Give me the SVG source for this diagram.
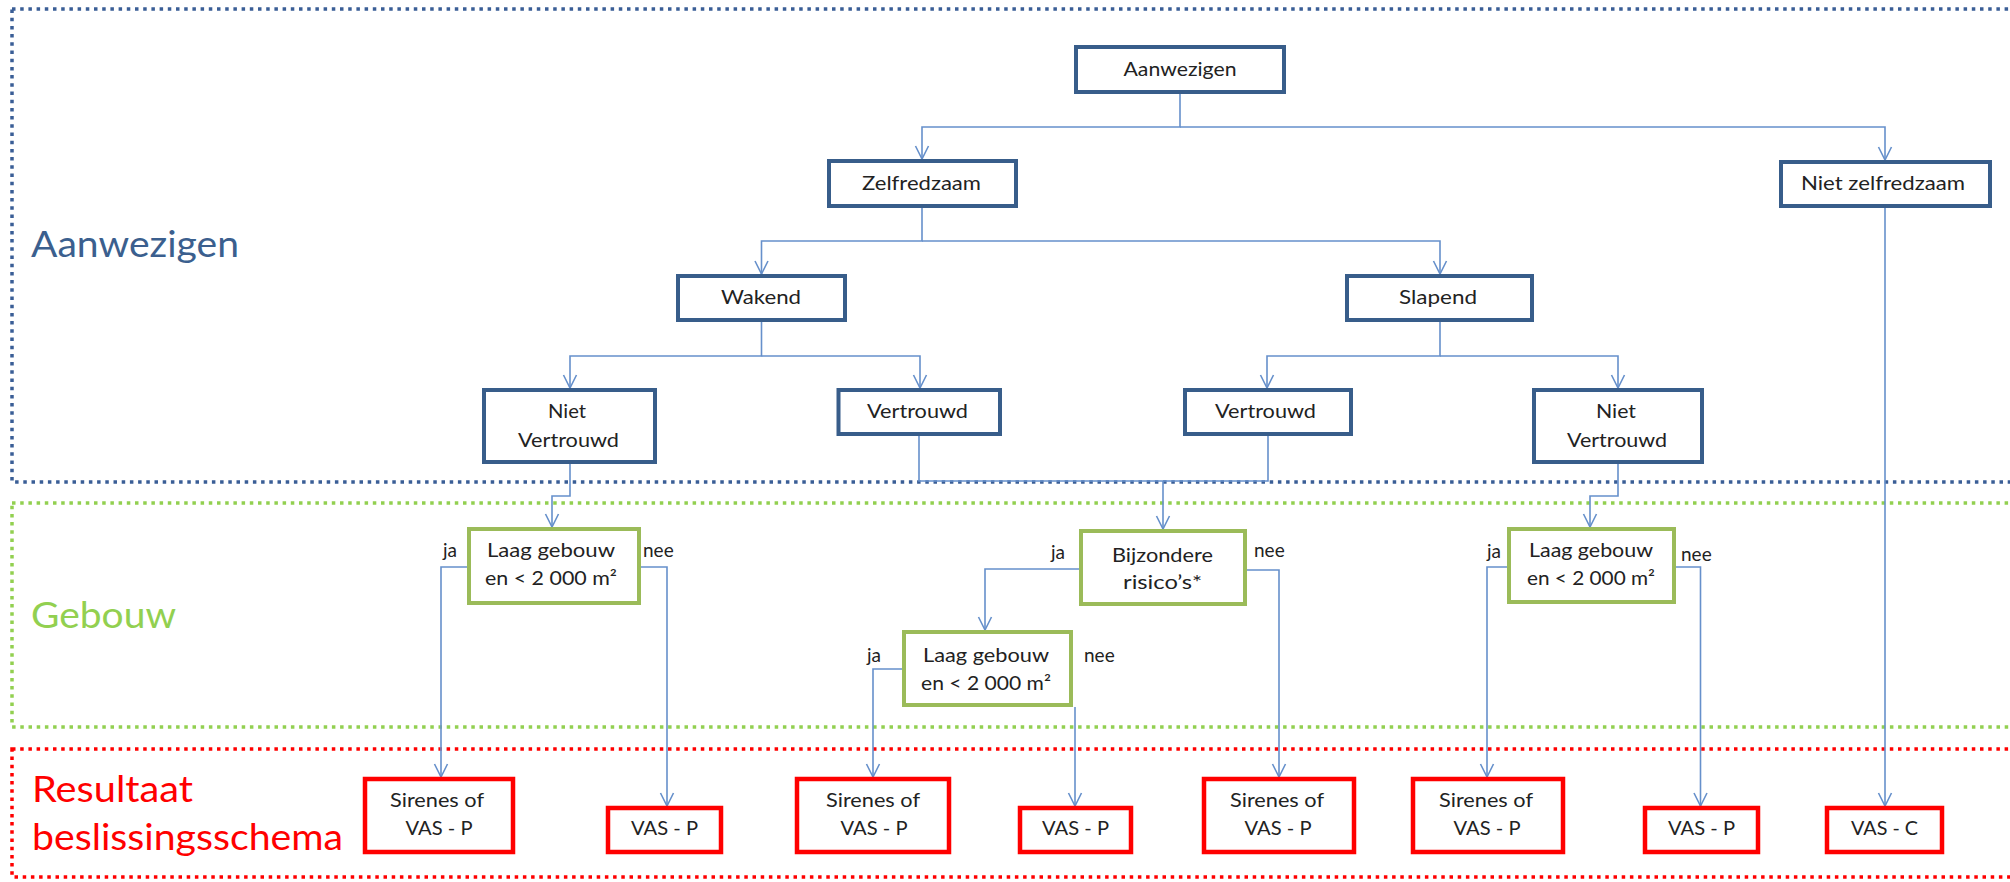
<svg xmlns="http://www.w3.org/2000/svg" width="2010" height="882" viewBox="0 0 2010 882">
<style>
.bg{fill:#ffffff}
.frame{fill:none;stroke-width:3.5;stroke-dasharray:3.5 4.7}
.fb{stroke:#3A5E96}
.fg{stroke:#92D050}
.fr{stroke:#FF0000}
.lbl{font-family:Lato,"Liberation Sans",sans-serif;font-size:37px}
.nb rect{fill:#fff;stroke:#385D8A;stroke-width:4}
.ng rect{fill:#fff;stroke:#9BBB59;stroke-width:4}
.nr rect{fill:#fff;stroke:#FF0000;stroke-width:4.5}
.t{font-family:Lato,"Liberation Sans",sans-serif;font-size:19px;fill:#222;text-anchor:middle}
.yn{font-family:Lato,"Liberation Sans",sans-serif;font-size:19px;fill:#222}
#connectors path{fill:none;stroke:#6690CB;stroke-width:1.6}
</style>
<defs>
<marker id="arr" markerUnits="userSpaceOnUse" markerWidth="30" markerHeight="30" refX="0" refY="0" viewBox="-15 -15 30 30" orient="auto" overflow="visible">
<path d="M-13,-6.5 L0,0 L-13,6.5" fill="none" stroke="#6690CB" stroke-width="1.6"/>
</marker>
</defs>
<rect class="bg" x="0" y="0" width="2010" height="882"/>

<g id="frames">
<rect class="frame fb" x="12" y="9" width="2030" height="473"/>
<rect class="frame fg" x="12" y="503" width="2030" height="224"/>
<rect class="frame fr" x="12" y="749" width="2030" height="128"/>
</g>

<g id="section-labels">
<text class="lbl" x="31" y="257" fill="#3B5F8E" textLength="208" lengthAdjust="spacingAndGlyphs">Aanwezigen</text>
<text class="lbl" x="31" y="628" fill="#92D050" textLength="145" lengthAdjust="spacingAndGlyphs">Gebouw</text>
<text class="lbl" x="32" y="802" fill="#FF0000" textLength="161" lengthAdjust="spacingAndGlyphs">Resultaat</text>
<text class="lbl" x="32" y="850" fill="#FF0000" textLength="311" lengthAdjust="spacingAndGlyphs">beslissingsschema</text>
</g>

<g id="connectors">
<path d="M1180,93 V127 H922 V159" marker-end="url(#arr)"/>
<path d="M1180,127 H1885 V160" marker-end="url(#arr)"/>
<path d="M922,208 V241 H761.5 V274" marker-end="url(#arr)"/>
<path d="M922,241 H1440 V274" marker-end="url(#arr)"/>
<path d="M761.5,322 V356 H570 V388" marker-end="url(#arr)"/>
<path d="M761.5,356 H920 V388" marker-end="url(#arr)"/>
<path d="M1440,322 V356 H1267 V388" marker-end="url(#arr)"/>
<path d="M1440,356 H1618 V388" marker-end="url(#arr)"/>
<path d="M570,464 V496 H552 V527" marker-end="url(#arr)"/>
<path d="M919,436 V481 H1268 V436"/>
<path d="M1163,481 V529" marker-end="url(#arr)"/>
<path d="M1618,464 V496 H1590 V527" marker-end="url(#arr)"/>
<path d="M1885,208 V806" marker-end="url(#arr)"/>
<path d="M467,567 H441 V777" marker-end="url(#arr)"/>
<path d="M641,567 H667 V806" marker-end="url(#arr)"/>
<path d="M1079,569 H985 V630" marker-end="url(#arr)"/>
<path d="M1247,570 H1279 V777" marker-end="url(#arr)"/>
<path d="M902,669 H873 V777" marker-end="url(#arr)"/>
<path d="M1075,707 V806" marker-end="url(#arr)"/>
<path d="M1507,567 H1487 V777" marker-end="url(#arr)"/>
<path d="M1676,567 H1700.5 V806" marker-end="url(#arr)"/>
</g>

<g id="n-aanwezigen" class="nb"><rect x="1076" y="47" width="208" height="45"/><text class="t" x="1180" y="76" textLength="113" lengthAdjust="spacingAndGlyphs">Aanwezigen</text></g>
<g id="n-zelfredzaam" class="nb"><rect x="829" y="161" width="187" height="45"/><text class="t" x="921.5" y="190" textLength="119" lengthAdjust="spacingAndGlyphs">Zelfredzaam</text></g>
<g id="n-niet-zelfredzaam" class="nb"><rect x="1781" y="162" width="209" height="44"/><text class="t" x="1883" y="190" textLength="164" lengthAdjust="spacingAndGlyphs">Niet zelfredzaam</text></g>
<g id="n-wakend" class="nb"><rect x="678" y="276" width="167" height="44"/><text class="t" x="761" y="304" textLength="80" lengthAdjust="spacingAndGlyphs">Wakend</text></g>
<g id="n-slapend" class="nb"><rect x="1347" y="276" width="185" height="44"/><text class="t" x="1438" y="304" textLength="78" lengthAdjust="spacingAndGlyphs">Slapend</text></g>
<g id="n-niet-vertrouwd-wakend" class="nb"><rect x="484" y="390" width="171" height="72"/><text class="t" x="567" y="418" textLength="38" lengthAdjust="spacingAndGlyphs">Niet</text><text class="t" x="568.5" y="447" textLength="101" lengthAdjust="spacingAndGlyphs">Vertrouwd</text></g>
<g id="n-vertrouwd-wakend" class="nb"><rect x="838.5" y="390" width="161.5" height="44"/><text class="t" x="917.5" y="418" textLength="101" lengthAdjust="spacingAndGlyphs">Vertrouwd</text></g>
<g id="n-vertrouwd-slapend" class="nb"><rect x="1185" y="390" width="166" height="44"/><text class="t" x="1265.5" y="418" textLength="101" lengthAdjust="spacingAndGlyphs">Vertrouwd</text></g>
<g id="n-niet-vertrouwd-slapend" class="nb"><rect x="1534" y="390" width="168" height="72"/><text class="t" x="1616" y="418" textLength="40" lengthAdjust="spacingAndGlyphs">Niet</text><text class="t" x="1617" y="447" textLength="100" lengthAdjust="spacingAndGlyphs">Vertrouwd</text></g>

<g id="n-laag-gebouw-1" class="ng"><rect x="469" y="529" width="170" height="74"/><text class="t" x="551" y="557" textLength="128" lengthAdjust="spacingAndGlyphs">Laag gebouw</text><text class="t" x="551" y="585" textLength="132" lengthAdjust="spacingAndGlyphs">en &lt; 2 000 m²</text></g>
<g id="n-bijzondere" class="ng"><rect x="1081" y="531" width="164" height="73"/><text class="t" x="1162.5" y="562" textLength="101" lengthAdjust="spacingAndGlyphs">Bijzondere</text><text class="t" x="1162.5" y="589" textLength="79" lengthAdjust="spacingAndGlyphs">risico’s*</text></g>
<g id="n-laag-gebouw-2" class="ng"><rect x="904" y="632" width="167" height="73"/><text class="t" x="986" y="662" textLength="126" lengthAdjust="spacingAndGlyphs">Laag gebouw</text><text class="t" x="986" y="690" textLength="130" lengthAdjust="spacingAndGlyphs">en &lt; 2 000 m²</text></g>
<g id="n-laag-gebouw-3" class="ng"><rect x="1509" y="529" width="165" height="73"/><text class="t" x="1591" y="557" textLength="124" lengthAdjust="spacingAndGlyphs">Laag gebouw</text><text class="t" x="1591" y="585" textLength="128" lengthAdjust="spacingAndGlyphs">en &lt; 2 000 m²</text></g>

<g id="edge-labels">
<text class="yn" x="443" y="557">ja</text>
<text class="yn" x="643" y="557">nee</text>
<text class="yn" x="1051" y="559">ja</text>
<text class="yn" x="1254" y="557">nee</text>
<text class="yn" x="867" y="662">ja</text>
<text class="yn" x="1084" y="662">nee</text>
<text class="yn" x="1487" y="558">ja</text>
<text class="yn" x="1681" y="561">nee</text>
</g>

<g id="r-sirenes-1" class="nr"><rect x="365" y="779" width="148" height="73"/><text class="t" x="437" y="807" textLength="94" lengthAdjust="spacingAndGlyphs">Sirenes of</text><text class="t" x="439" y="835" textLength="67" lengthAdjust="spacingAndGlyphs">VAS - P</text></g>
<g id="r-vasp-1" class="nr"><rect x="608" y="808" width="113" height="44"/><text class="t" x="664.5" y="835" textLength="67" lengthAdjust="spacingAndGlyphs">VAS - P</text></g>
<g id="r-sirenes-2" class="nr"><rect x="797" y="779" width="152" height="73"/><text class="t" x="873" y="807" textLength="94" lengthAdjust="spacingAndGlyphs">Sirenes of</text><text class="t" x="874" y="835" textLength="67" lengthAdjust="spacingAndGlyphs">VAS - P</text></g>
<g id="r-vasp-2" class="nr"><rect x="1020" y="808" width="111" height="44"/><text class="t" x="1075.5" y="835" textLength="67" lengthAdjust="spacingAndGlyphs">VAS - P</text></g>
<g id="r-sirenes-3" class="nr"><rect x="1204" y="779" width="150" height="73"/><text class="t" x="1277" y="807" textLength="94" lengthAdjust="spacingAndGlyphs">Sirenes of</text><text class="t" x="1278" y="835" textLength="67" lengthAdjust="spacingAndGlyphs">VAS - P</text></g>
<g id="r-sirenes-4" class="nr"><rect x="1413" y="779" width="150" height="73"/><text class="t" x="1486" y="807" textLength="94" lengthAdjust="spacingAndGlyphs">Sirenes of</text><text class="t" x="1487" y="835" textLength="67" lengthAdjust="spacingAndGlyphs">VAS - P</text></g>
<g id="r-vasp-3" class="nr"><rect x="1645" y="808" width="113" height="44"/><text class="t" x="1701.5" y="835" textLength="67" lengthAdjust="spacingAndGlyphs">VAS - P</text></g>
<g id="r-vasc" class="nr"><rect x="1827" y="808" width="115" height="44"/><text class="t" x="1884.5" y="835" textLength="67" lengthAdjust="spacingAndGlyphs">VAS - C</text></g>
</svg>
